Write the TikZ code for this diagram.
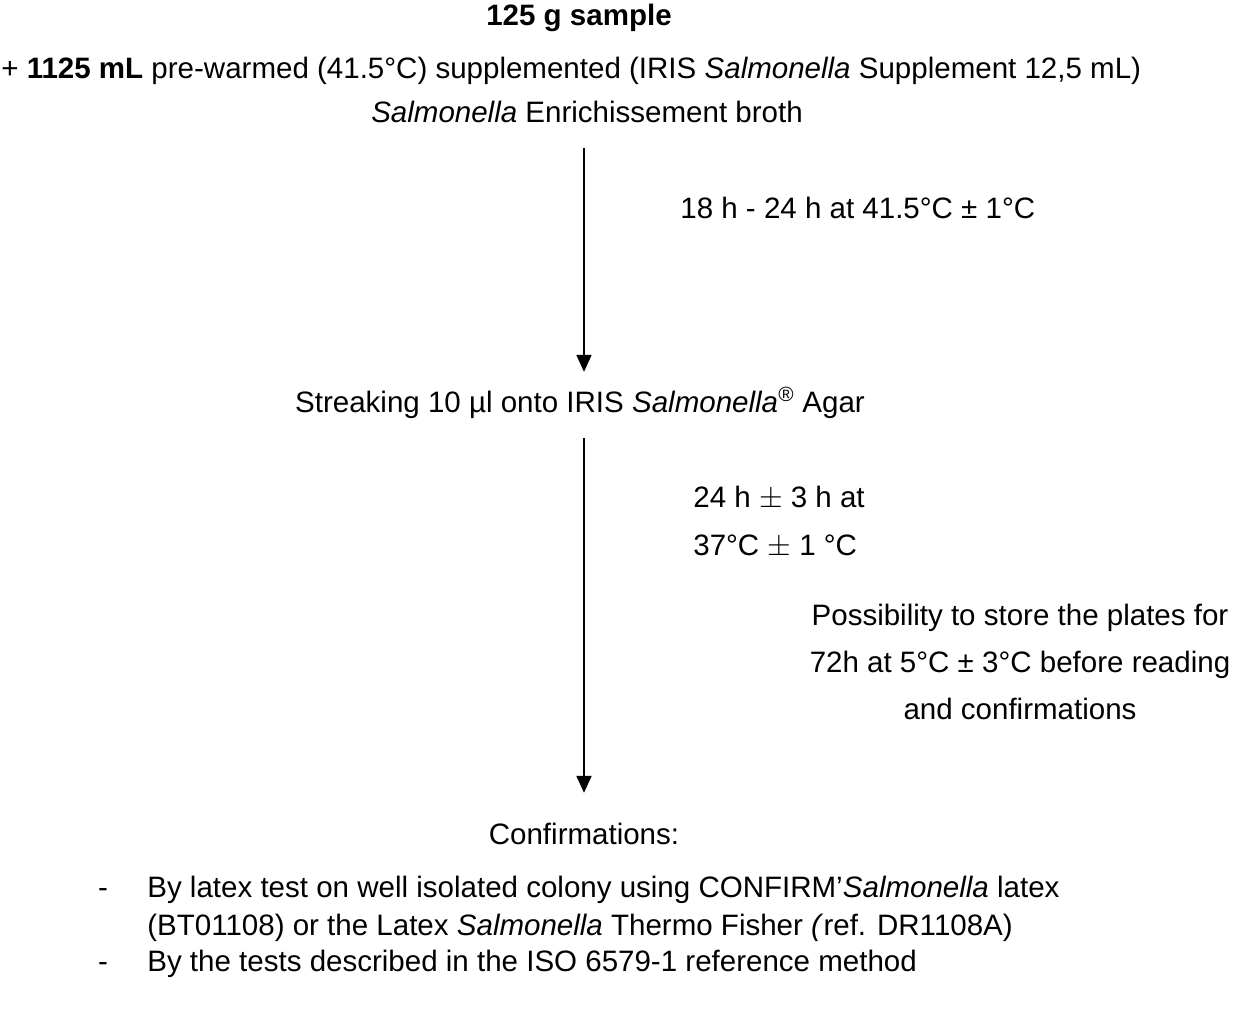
\documentclass[tikz,border=0pt]{standalone}
\usepackage{fontspec}
\setmainfont{Liberation Sans}
\usetikzlibrary{positioning}
\usetikzlibrary{calc}
\usetikzlibrary{arrows.meta}

\begin{document}
\begin{tikzpicture}[x=0.02cm, y=-0.02cm,
    txt/.style={inner sep=0pt, font=\fontsize{16.8}{20}\selectfont},
    flow/.style={line width=1.1pt, -{Triangle[length=0.34cm,width=0.3cm]}},
  ]
  \useasboundingbox (0,0) rectangle (1242,1024);

  \coordinate (AXIS) at (584,0);

  \node [txt] (SAMPLE) at (579,18) {\textbf{125 g sample}};
  \node [txt, anchor=west] (BROTH1) at (1,71) {+ \textbf{1125 mL} pre-warmed (41.5°C) supplemented (IRIS \textit{Salmonella} Supplement 12,5 mL)};
  \node [txt] (BROTH2) at (587,112) {\textit{Salmonella} Enrichissement broth};
  \node [txt, anchor=west] (INCUB1) at (680,208) {18 h - 24 h at 41.5°C ± 1°C};
  \node [txt] (STREAK) at (580,403) {Streaking 10 µl onto IRIS \textit{Salmonella}\textsuperscript{\textit{®}} Agar};
  \node [txt, anchor=west, align=left, font=\fontsize{16.8}{27.8}\selectfont] (INCUB2) at (693,522) {24 h $\pm$ 3 h at\\37°C $\pm$ 1 °C};
  \node [txt, align=center, font=\fontsize{16.8}{26.6}\selectfont] (STORE) at (1020,662) {Possibility to store the plates for\\72h at 5°C ± 3°C before reading\\and confirmations};
  \node [txt] (CONF) at (584,834) {Confirmations:};

  \node [txt] (DASH1) at (103,893) {-};
  \node [txt, anchor=west, align=left, font=\fontsize{16.8}{21.3}\selectfont] (ITEM1) at (147,909) {By latex test on well isolated colony using CONFIRM’\textit{Salmonella} latex\\(BT01108) or the Latex \textit{Salmonella} Thermo Fisher \textit{(}ref. DR1108A)};
  \node [txt] (DASH2) at (103,967) {-};
  \node [txt, anchor=west] (ITEM2) at (147,964) {By the tests described in the ISO 6579-1 reference method};

  \draw [flow, shorten <=0.5cm, shorten >=0.3cm] (BROTH2.south -| AXIS) -- (STREAK.north -| AXIS);
  \draw [flow, shorten <=0.38cm, shorten >=0.6cm] (STREAK.south -| AXIS) -- (CONF.north -| AXIS);

\end{tikzpicture}
\end{document}
